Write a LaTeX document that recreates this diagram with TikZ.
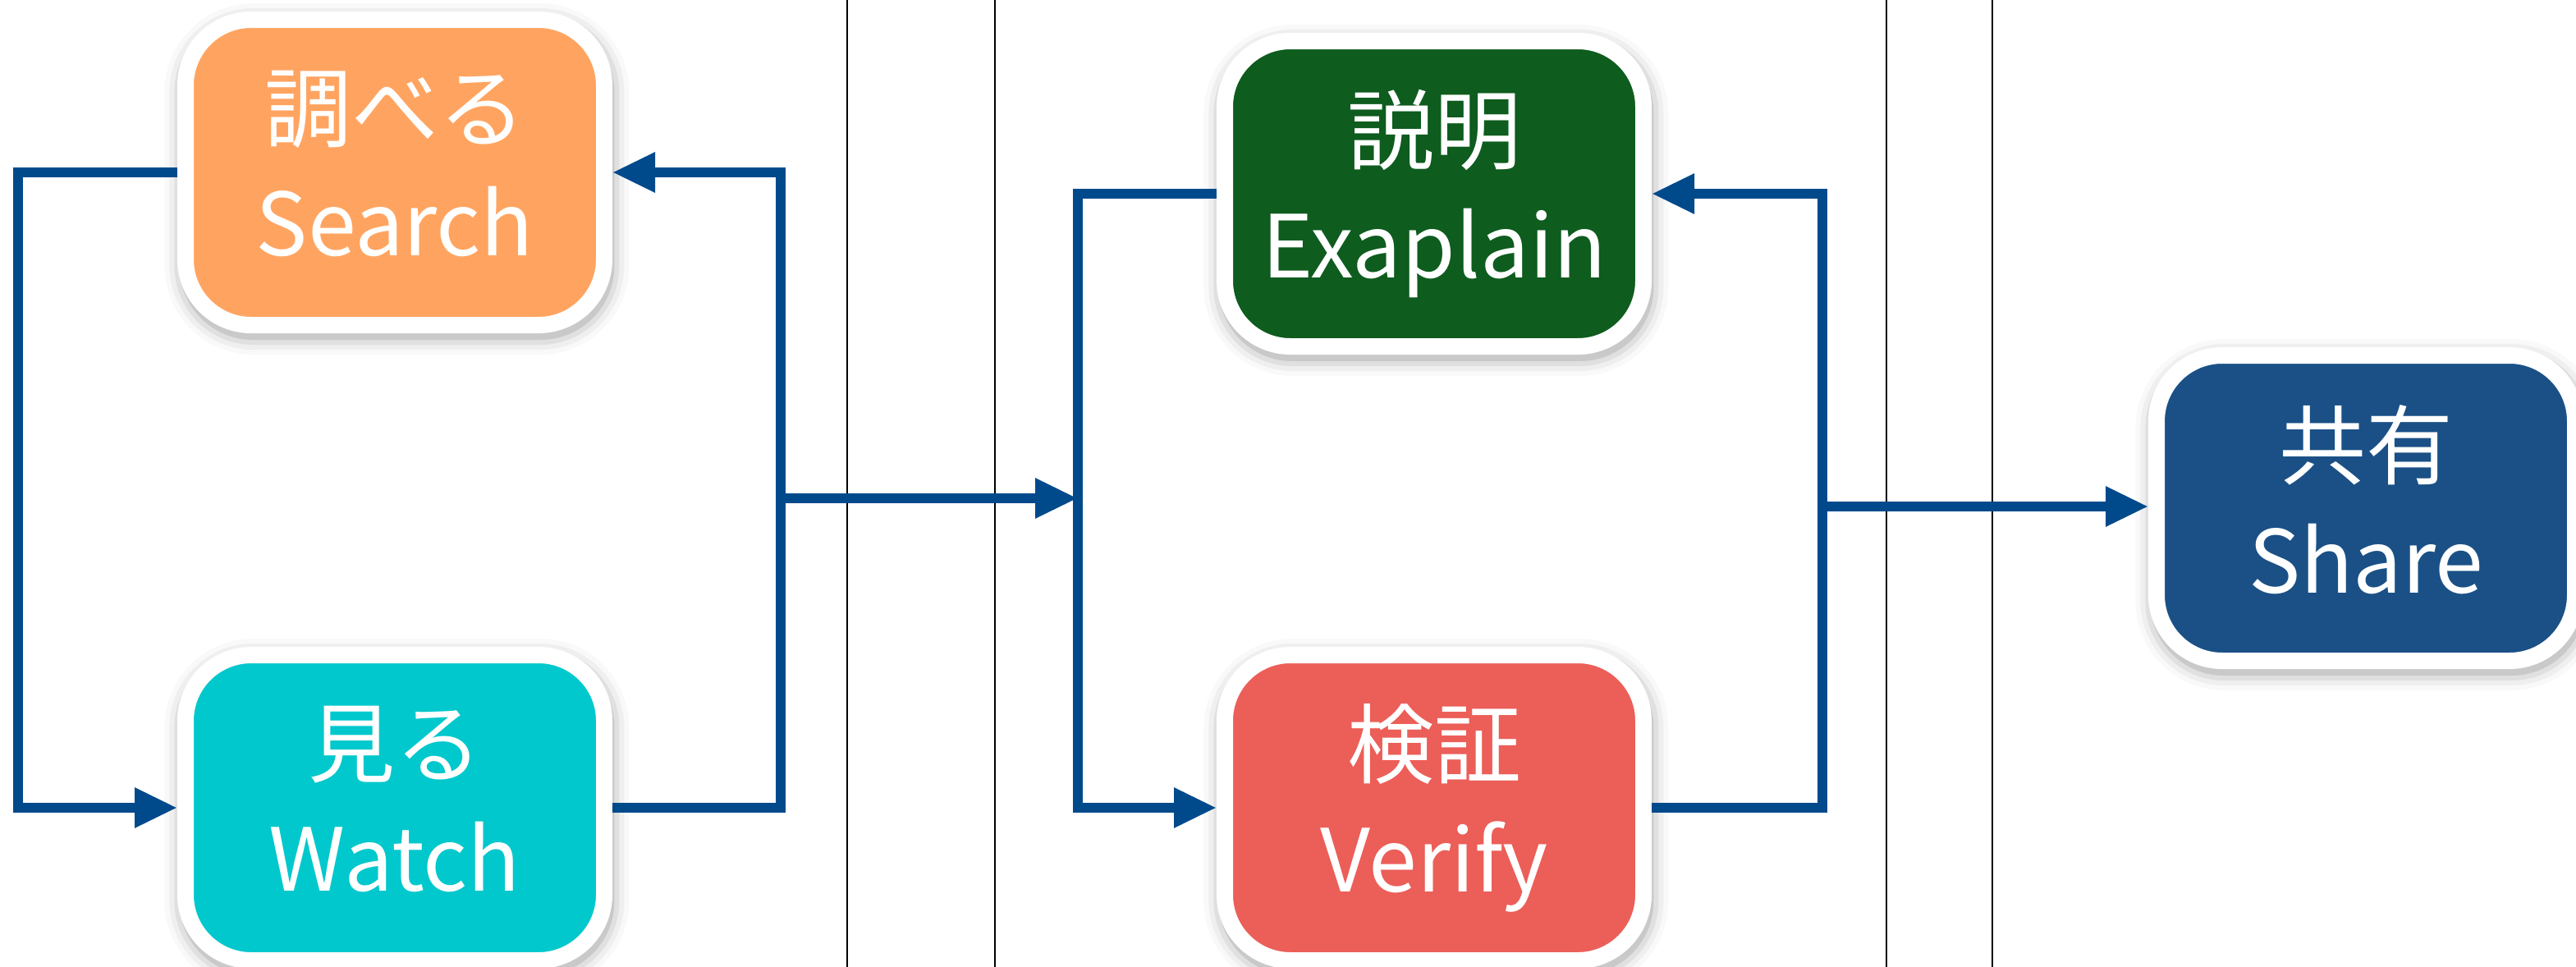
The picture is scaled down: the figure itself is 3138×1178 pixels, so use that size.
\documentclass[tikz,border=0pt]{standalone}
\usepackage{fontspec}
\setmainfont{Noto Sans CJK JP}
\usetikzlibrary{arrows.meta,shadows}
\definecolor{flowblue}{RGB}{0,74,140}
\definecolor{cSearch}{RGB}{255,164,96}
\definecolor{cWatch}{RGB}{0,200,204}
\definecolor{cExplain}{RGB}{14,92,30}
\definecolor{cVerify}{RGB}{236,94,88}
\definecolor{cShare}{RGB}{26,80,134}
% fixed depth for the last label line, so every label sits at the same height
\newcommand{\lastdepth}{\rule[-5.5pt]{0pt}{5.5pt}}
\tikzset{
  stage/.style={
    rounded corners=20pt, minimum width=127.5pt, minimum height=93pt,
    draw=white, line width=5pt, text=white, align=center,
    font=\fontsize{26.5}{35}\selectfont, inner sep=0pt,
    general shadow={draw=black, fill=black, line width=5pt, opacity=.10,
      shadow xshift=.6pt, shadow yshift=-2pt},
    general shadow={draw=black, line width=8pt, opacity=.06,
      shadow xshift=.6pt, shadow yshift=-2pt},
    general shadow={draw=black, line width=11pt, opacity=.04,
      shadow xshift=.6pt, shadow yshift=-2pt},
    general shadow={draw=black, line width=14pt, opacity=.025,
      shadow xshift=.6pt, shadow yshift=-2pt}
  },
  flow/.style={draw=flowblue, line width=3pt, line join=miter,
    -{Triangle[length=13pt,width=11.5pt]}},
  divider/.style={draw=black, line width=0.5pt}
}
\begin{document}
\begin{tikzpicture}[x=0.25pt, y=-0.25pt]
  \useasboundingbox[fill=white] (0,0) rectangle (3138,1178);

  % lane dividers
  \foreach \xd in {1032,1212,2298,2427}
    \draw[divider] (\xd,0) -- (\xd,1178);

  % stages
  \node[stage, fill=cSearch]  (search)  at (481,210)  {調べる\\Search\lastdepth};
  \node[stage, fill=cWatch]   (watch)   at (481,984)  {見る\\Watch\lastdepth};
  \node[stage, fill=cExplain] (explain) at (1747,236) {説明\\Exaplain\lastdepth};
  \node[stage, fill=cVerify]  (verify)  at (1747,984) {検証\\Verify\lastdepth};
  \node[stage, fill=cShare]   (share)   at (2882,619) {共有\\Share\lastdepth};

  % loop and junction points
  \coordinate (loopL) at (22,600);
  \coordinate (jA) at (951,607);
  \coordinate (jB) at (1313,607);
  \coordinate (jC) at (2220,617);

  % connectors
  \draw[flow] (search.west) -- (search.west -| loopL) -- (watch.west -| loopL) -- (watch.west);
  \draw[flow] (watch.east) -| (jA) |- (search.east);
  \draw[flow] (jA) -- (jB);
  \draw[flow] (explain.west) -| (jB) |- (verify.west);
  \draw[flow] (verify.east) -| (jC) |- (explain.east);
  \draw[flow] (jC) -- (jC -| share.west);
\end{tikzpicture}
\end{document}
